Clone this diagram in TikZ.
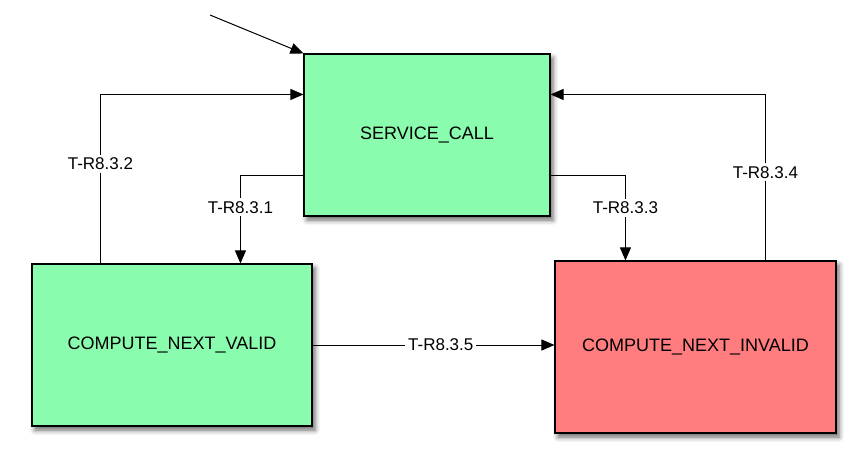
\documentclass[tikz,border=0pt]{standalone}
\usepackage{fontspec}
\setmainfont{Liberation Sans}
\usetikzlibrary{calc,arrows.meta,shadows.blur}
\definecolor{stgreen}{RGB}{138,252,174}
\definecolor{stred}{RGB}{255,125,127}
\begin{document}
\begin{tikzpicture}[x=1pt,y=-1pt,
  state/.style={draw=black,line width=1.1pt,inner sep=0pt,
    blur shadow={shadow xshift=3pt,shadow yshift=-4pt,shadow blur radius=5pt,shadow opacity=60},
    font=\fontsize{18}{21}\selectfont},
  arr/.style={line width=1pt,-{Triangle[length=13pt,width=11pt]}},
  lbl/.style={fill=white,inner sep=3pt,font=\fontsize{17}{20}\selectfont}]
\useasboundingbox (0,0) rectangle (865,469);
\node[state,fill=stgreen,minimum width=246pt,minimum height=162pt] (sc) at (427,135) {SERVICE\_CALL};
\node[state,fill=stgreen,minimum width=280pt,minimum height=162pt] (cnv) at (172,345) {COMPUTE\_NEXT\_VALID};
\node[state,fill=stred,minimum width=281pt,minimum height=172pt] (cni) at (695.5,347) {COMPUTE\_NEXT\_INVALID};
\coordinate (init) at (210,15);
\draw[arr] (init) -- (sc.north west);
\draw[arr] ($(cnv.north west)+(69,0)$) |- node[lbl,pos=0.295] {T-R8.3.2} ($(sc.north west)+(0,41)$);
\draw[arr] ($(sc.south west)+(0,-41)$) -| node[lbl,pos=0.68] {T-R8.3.1} ($(cnv.north west)+(209,0)$);
\draw[arr] ($(sc.south east)+(0,-41)$) -| node[lbl,pos=0.69] {T-R8.3.3} ($(cni.north west)+(71,0)$);
\draw[arr] ($(cni.north west)+(211,0)$) |- node[lbl,pos=0.265] {T-R8.3.4} ($(sc.north east)+(0,41)$);
\draw[arr] (cnv.east) -- node[lbl,pos=0.53] {T-R8.3.5} (cnv.east -| cni.west);
\end{tikzpicture}
\end{document}
